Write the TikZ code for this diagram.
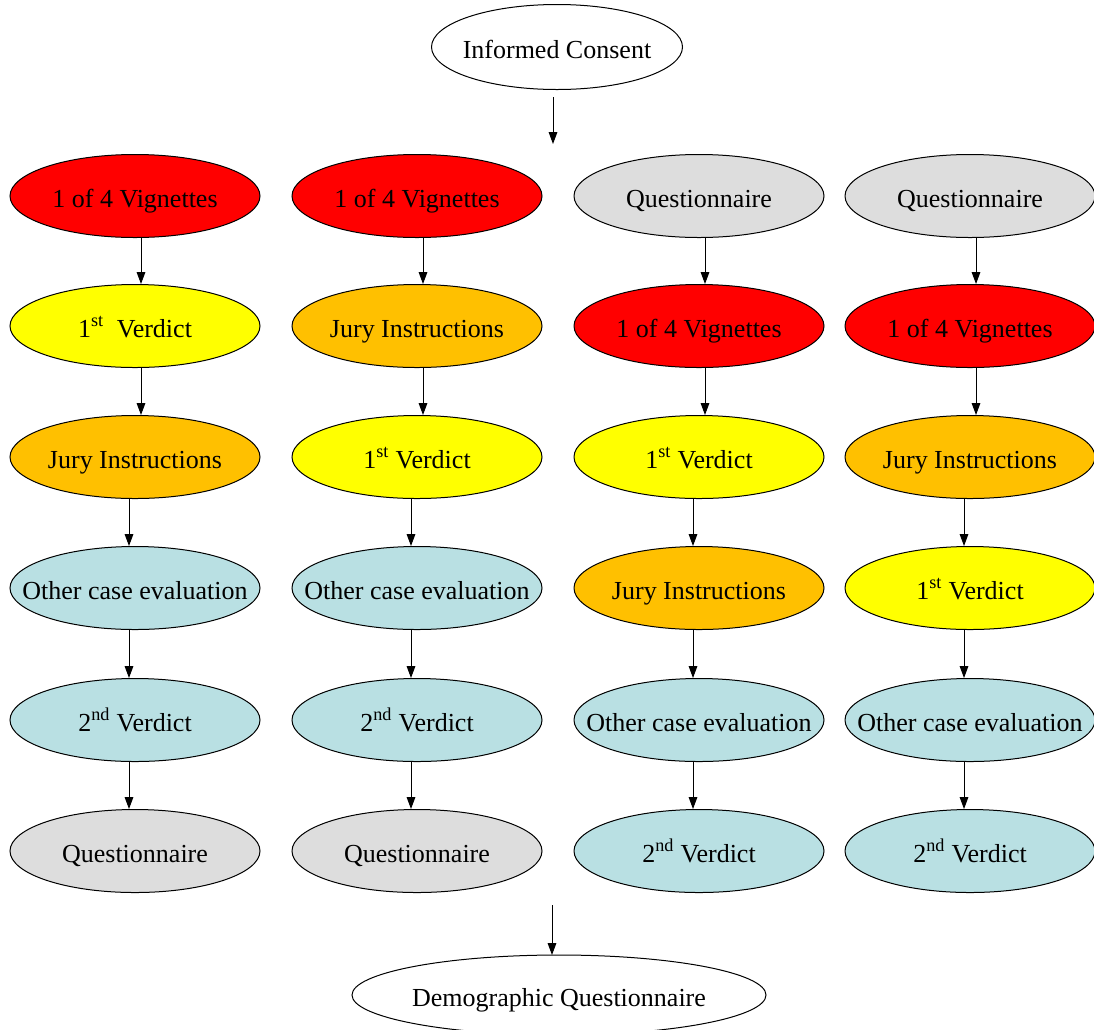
\documentclass[tikz,border=0pt]{standalone}
\usepackage{fontspec}
\setmainfont{Liberation Serif}
\usetikzlibrary{shapes.geometric,arrows.meta}
\definecolor{cred}{HTML}{FF0000}
\definecolor{cyel}{HTML}{FFFF00}
\definecolor{corg}{HTML}{FFC000}
\definecolor{cblu}{HTML}{B9E0E3}
\definecolor{cgry}{HTML}{DDDDDD}
\newcommand{\zb}[1]{\makebox[0pt]{#1}}
\tikzset{
  box/.style={ellipse, draw=black, line width=0.75pt, inner sep=0pt,
    minimum width=187.5pt, minimum height=62.25pt,
    text height=18pt, text depth=1.5pt,
    font=\fontsize{19.5}{22}\selectfont},
  red/.style={box, fill=cred},
  yel/.style={box, fill=cyel},
  org/.style={box, fill=corg},
  blu/.style={box, fill=cblu},
  gry/.style={box, fill=cgry},
  arr/.style={line width=0.75pt, -{Triangle[length=9pt,width=6.5pt]}}
}
\begin{document}
\begin{tikzpicture}[x=0.75pt,y=-0.75pt]
\useasboundingbox[fill=white] (0,0) rectangle (1094,1029);
\node[box, fill=white, minimum width=188.25pt, minimum height=63.75pt] (ic) at (557,47) {\zb{Informed Consent}};
\node[box, fill=white, minimum width=310.5pt, minimum height=60pt] (dq) at (559,995) {\zb{Demographic Questionnaire}};
\coordinate (t1) at (553,97);
\coordinate (t2) at (553,144);
\coordinate (b1) at (552,905);
\coordinate (b2) at (552,955);
\draw[arr] (t1) -- (t2);
\draw[arr] (b1) -- (b2);
% column 1
\node[red] (a1) at (135,196) {\zb{1 of 4 Vignettes}};
\node[yel] (a2) at (135,326) {\zb{1\textsuperscript{st}\ \ Verdict}};
\node[org] (a3) at (135,457) {\zb{Jury Instructions}};
\node[blu] (a4) at (135,588) {\zb{Other case evaluation}};
\node[blu] (a5) at (135,720) {\zb{2\textsuperscript{nd} Verdict}};
\node[gry] (a6) at (135,851) {\zb{Questionnaire}};
% column 2
\node[red] (b1n) at (417,196) {\zb{1 of 4 Vignettes}};
\node[org] (b2n) at (417,326) {\zb{Jury Instructions}};
\node[yel] (b3n) at (417,457) {\zb{1\textsuperscript{st} Verdict}};
\node[blu] (b4n) at (417,588) {\zb{Other case evaluation}};
\node[blu] (b5n) at (417,720) {\zb{2\textsuperscript{nd} Verdict}};
\node[gry] (b6n) at (417,851) {\zb{Questionnaire}};
% column 3
\node[gry] (c1) at (699,196) {\zb{Questionnaire}};
\node[red] (c2) at (699,326) {\zb{1 of 4 Vignettes}};
\node[yel] (c3) at (699,457) {\zb{1\textsuperscript{st} Verdict}};
\node[org] (c4) at (699,588) {\zb{Jury Instructions}};
\node[blu] (c5) at (699,720) {\zb{Other case evaluation}};
\node[blu] (c6) at (699,851) {\zb{2\textsuperscript{nd} Verdict}};
% column 4
\node[gry] (d1) at (970,196) {\zb{Questionnaire}};
\node[red] (d2) at (970,326) {\zb{1 of 4 Vignettes}};
\node[org] (d3) at (970,457) {\zb{Jury Instructions}};
\node[yel] (d4) at (970,588) {\zb{1\textsuperscript{st} Verdict}};
\node[blu] (d5) at (970,720) {\zb{Other case evaluation}};
\node[blu] (d6) at (970,851) {\zb{2\textsuperscript{nd} Verdict}};
% arrows
\foreach \p/\q in {a1/a2,a2/a3,b1n/b2n,b2n/b3n,c1/c2,c2/c3,d1/d2,d2/d3}
  \draw[arr] ([xshift=4.5pt]\p.south) -- ([xshift=4.5pt]\q.north);
\foreach \p/\q in {a3/a4,a4/a5,a5/a6,b3n/b4n,b4n/b5n,b5n/b6n,c3/c4,c4/c5,c5/c6,d3/d4,d4/d5,d5/d6}
  \draw[arr] ([xshift=-4.5pt]\p.south) -- ([xshift=-4.5pt]\q.north);
\end{tikzpicture}
\end{document}
